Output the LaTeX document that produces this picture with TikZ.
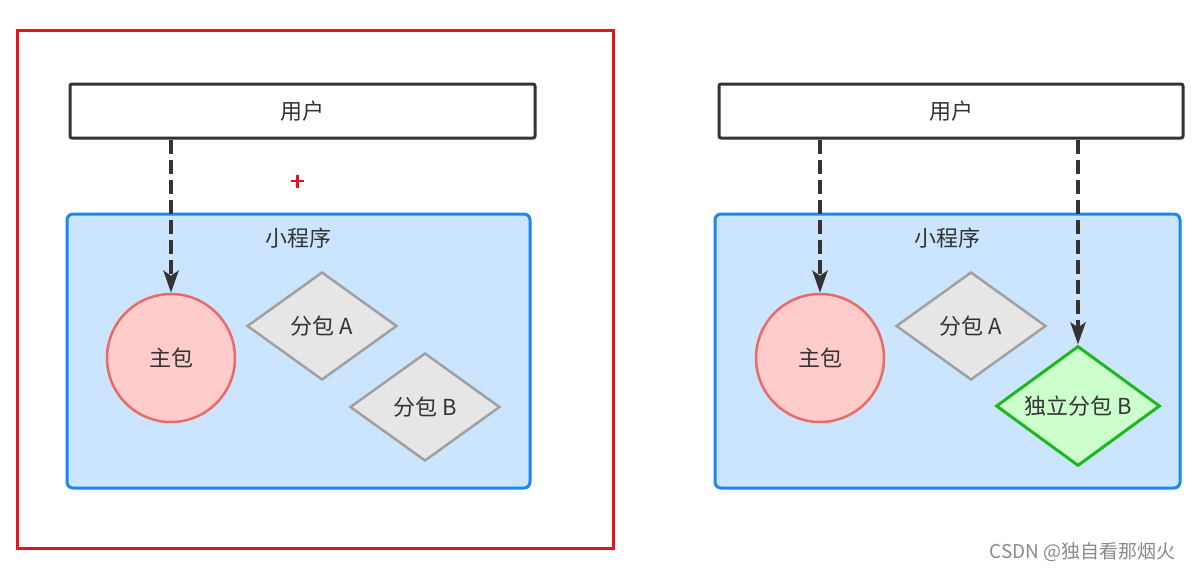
\documentclass[tikz,border=0pt]{standalone}
\usepackage{fontspec}
\setmainfont{Noto Sans CJK SC}
\usetikzlibrary{shapes.geometric,arrows.meta}
\definecolor{frameRed}{HTML}{E3141E}
\definecolor{boxBlueFill}{HTML}{CCE5FF}
\definecolor{boxBlueLine}{HTML}{1A88F0}
\definecolor{mainFill}{HTML}{FFCCCC}
\definecolor{mainLine}{HTML}{EA6B66}
\definecolor{subFill}{HTML}{E6E6E6}
\definecolor{subLine}{HTML}{A0A0A0}
\definecolor{indFill}{HTML}{CCFFCC}
\definecolor{indLine}{HTML}{1EB81E}
\definecolor{inkDark}{HTML}{333333}
\definecolor{wmGray}{HTML}{8A8A8A}
\tikzset{
  lbl/.style={font=\fontsize{22}{26}\selectfont, text=inkDark},
  userbox/.style={draw=inkDark, line width=3pt, fill=white, rounded corners=2pt},
  appbox/.style={draw=boxBlueLine, line width=3pt, fill=boxBlueFill, rounded corners=6pt},
  mainpkg/.style={circle, draw=mainLine, line width=2.5pt, fill=mainFill, minimum size=128pt, inner sep=0pt, lbl},
  subpkg/.style={diamond, draw=subLine, line width=2.5pt, fill=subFill, minimum width=150pt, minimum height=108pt, aspect=1.39, inner sep=0pt, lbl},
  indpkg/.style={diamond, draw=indLine, line width=3pt, fill=indFill, minimum width=164pt, minimum height=120pt, aspect=1.37, inner sep=0pt, lbl},
  flow/.style={draw=inkDark, line width=4pt, dash pattern=on 14pt off 6pt, -{Stealth[length=22pt, width=15pt, inset=5pt]}},
}
\begin{document}
\begin{tikzpicture}[x=1pt, y=-1pt]
\useasboundingbox (0,0) rectangle (1193,571);
\fill[white] (0,0) rectangle (1193,571);

% ---------- left ----------
\draw[frameRed, line width=3pt] (17,30) rectangle (613,548);
\draw[userbox] (70,84) rectangle (535,138);
\node[lbl] (userL) at (302.5,111) {用户};
\coordinate (userLbot) at (171,139.5);
\draw[appbox] (67,214) rectangle (530,488);
\node[lbl] (appL) at (298,238) {小程序};
\node[mainpkg] (mainL) at (171,358) {主包};
\node[subpkg] (subAL) at (322,326) {分包 A};
\node[subpkg] (subBL) at (425,407) {分包 B};
\draw[flow] (userLbot) -- (mainL.north);
% cursor mark
\draw[frameRed, line width=2.4pt] (291,181) -- (304,181) (297.5,174.5) -- (297.5,187.5);

% ---------- right ----------
\draw[userbox] (719,84) rectangle (1183,138);
\node[lbl] (userR) at (951,111) {用户};
\coordinate (userRbotA) at (820,139.5);
\coordinate (userRbotB) at (1078,139.5);
\draw[appbox] (715,214) rectangle (1180,488);
\node[lbl] (appR) at (947,238) {小程序};
\node[mainpkg] (mainR) at (820,358) {主包};
\node[subpkg] (subAR) at (971,326) {分包 A};
\node[indpkg] (indB) at (1078,406) {独立分包 B};
\draw[flow] (userRbotA) -- (mainR.north);
\draw[flow] (userRbotB) -- (indB.north);

% watermark
\node[font=\fontsize{19}{22}\selectfont, text=wmGray, anchor=east] (wm) at (1179,552) {CSDN @独自看那烟火};
\end{tikzpicture}
\end{document}
